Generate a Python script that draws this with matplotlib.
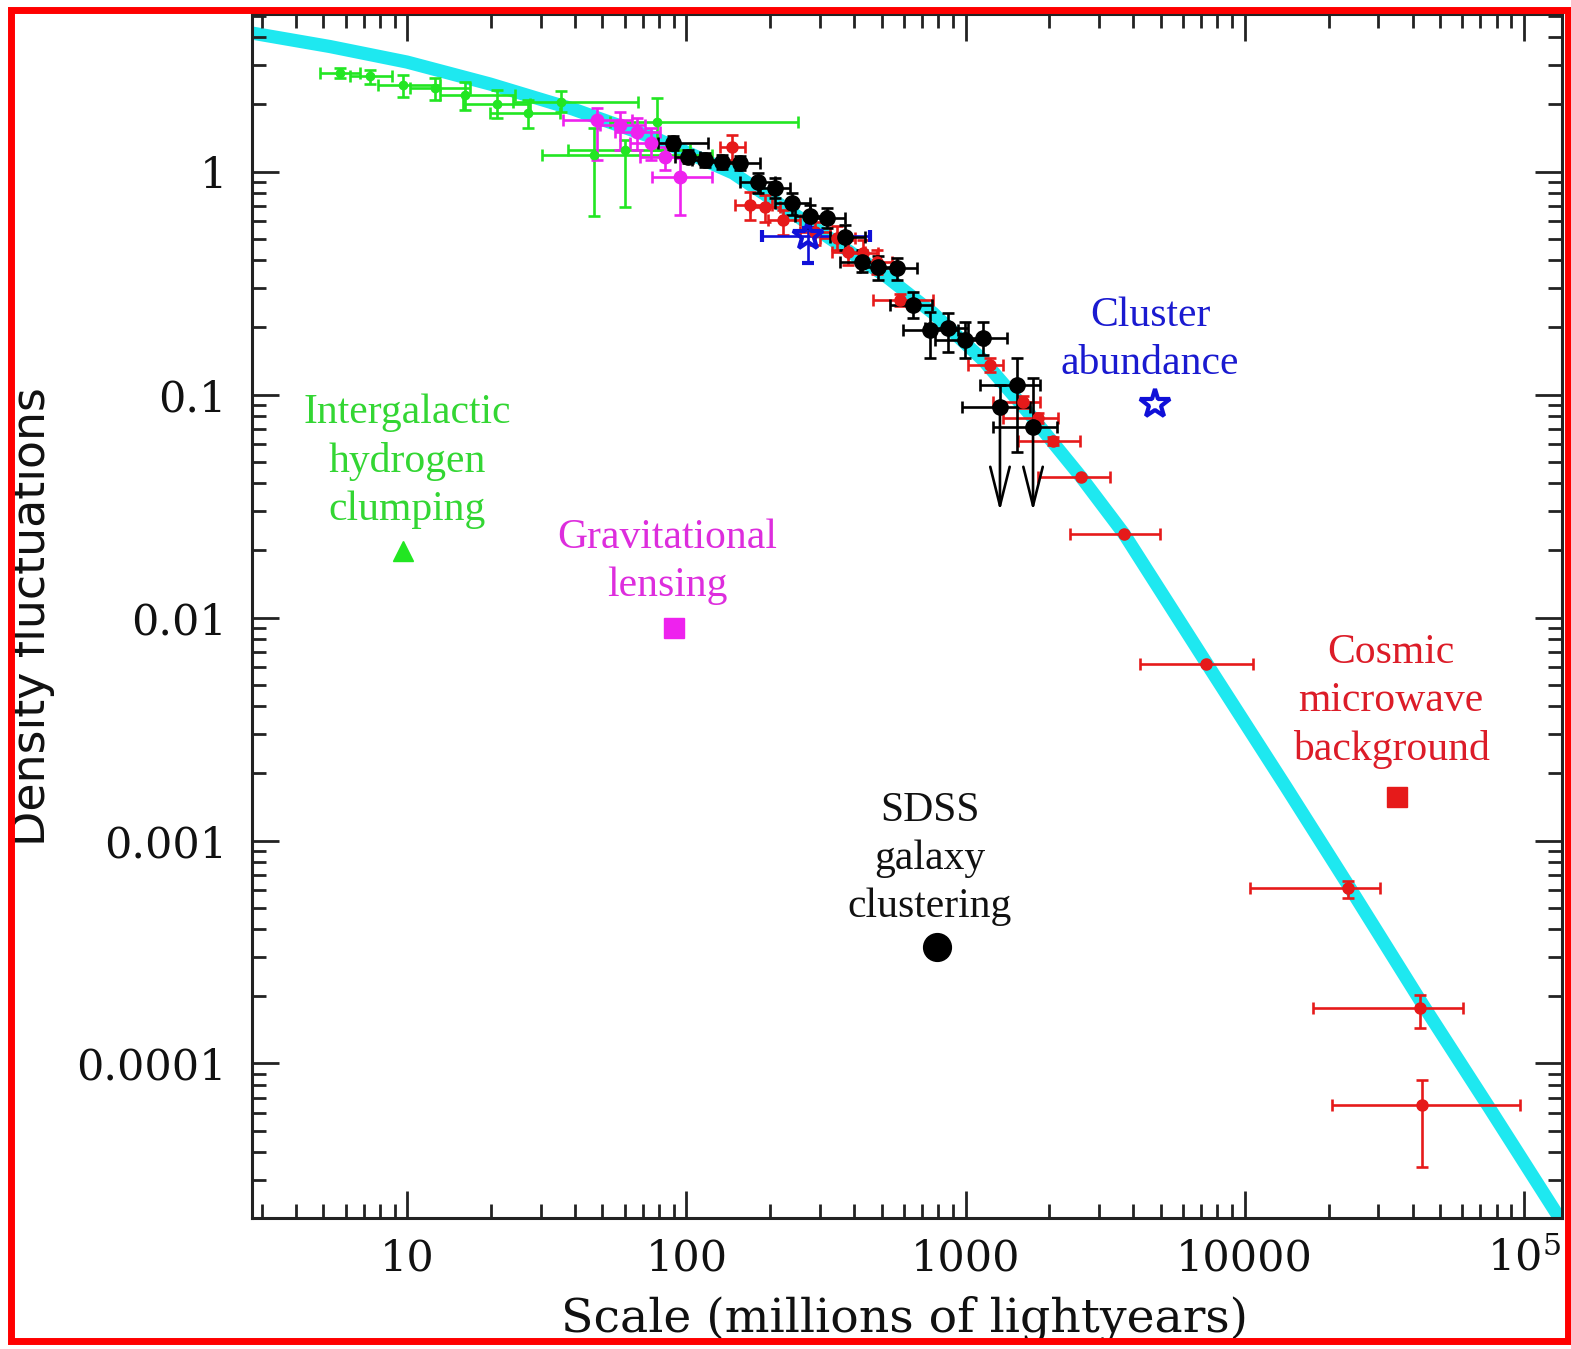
#!/usr/bin/env python3

import numpy as np
import matplotlib as mpl
mpl.use('Agg')
import matplotlib.pyplot as plt
from matplotlib.ticker import LogLocator, NullFormatter, FixedLocator
from matplotlib.patches import Rectangle

# theory curve (power-spectrum style fit)
curve_x = [2.772, 5.275, 9.96, 19.76, 39.19, 78.4, 146.8, 255.2, 523.0, 764.6, 1155,
           1746, 2594, 3700, 7338, 14080, 23880, 43630, 75860, 137400]
curve_y = [4.178, 3.635, 3.097, 2.469, 1.906, 1.399, 0.985, 0.6185, 0.3364, 0.232, 0.1428,
           0.0784, 0.0427, 0.0237, 0.00619, 1.738e-3, 6.12e-4, 1.829e-4, 6.25e-5, 1.946e-5]

# intergalactic hydrogen clumping
green_x = [5.73, 7.34, 9.63, 12.55, 16.07, 20.9, 27.0, 35.5, 46.6, 60.2, 78.4]
green_y = [2.77, 2.68, 2.44, 2.37, 2.20, 2.01, 1.83, 2.05, 1.186, 1.25, 1.667]
green_xlo = [4.86, 6.22, 7.84, 10.2, 13.08, 15.8, 19.8, 23.9, 30.3, 37.6, 53.2]
green_xhi = [6.76, 8.80, 13.08, 16.75, 24.3, 27.5, 35.2, 67.0, 123.5, 102.9, 251]
green_ylo = [2.63, 2.47, 2.16, 2.09, 1.89, 1.74, 1.57, 1.85, 0.631, 0.693, 1.25]
green_yhi = [2.91, 2.85, 2.71, 2.63, 2.52, 2.32, 2.09, 2.30, 1.57, 1.38, 2.14]

# gravitational lensing
magenta_x = [47.8, 57.8, 66.4, 74.6, 83.7, 94.8]
magenta_y = [1.70, 1.617, 1.503, 1.342, 1.162, 0.945]
magenta_xlo = [36.1, 49.0, 55.4, 62.7, 68.1, 75.2]
magenta_xhi = [63.8, 71.0, 80.4, 87.3, 102.9, 123.5]
magenta_ylo = [1.126, 1.25, 1.25, 1.126, 1.016, 0.638]
magenta_yhi = [1.93, 1.85, 1.74, 1.567, 1.288, 1.15]

# SDSS galaxy clustering
black_x = [89.5, 101.2, 116.5, 134.1, 155.5, 180.4, 207.6, 238.8, 277.1, 318.9, 370.0,
           425.6, 485.8, 568.3, 648.3, 746.1, 865.6, 995.9, 1155, 1530]
black_y = [1.342, 1.162, 1.126, 1.103, 1.092, 0.897, 0.843, 0.722, 0.631, 0.619, 0.508,
           0.393, 0.373, 0.369, 0.252, 0.1946, 0.1987, 0.1755, 0.1792, 0.1103]
black_xlo = [79.0, 91.0, 104.6, 119.4, 137.4, 155.5, 183.4, 207.6, 244.9, 281.7, 326.9,
             355, 418.8, 485.8, 536.3, 597, 716, 777.7, 955.6, 1127]
black_xhi = [119.4, 111.8, 129.7, 153, 183.4, 207.6, 235, 277, 313.6, 370, 436.4,
             494, 558.9, 670, 758.6, 939.9, 1021, 1175, 1408, 1849]
black_ylo = [1.248, 1.092, 1.047, 1.026, 1.016, 0.801, 0.761, 0.638, 0.558, 0.558, 0.445,
             0.354, 0.326, 0.326, 0.220, 0.1458, 0.155, 0.1458, 0.1504, 0.0552]
black_yhi = [1.443, 1.248, 1.21, 1.186, 1.174, 0.985, 0.935, 0.801, 0.708, 0.686, 0.575,
             0.445, 0.418, 0.409, 0.288, 0.234, 0.232, 0.2114, 0.2114, 0.1458]

# SDSS upper limits (arrows)
limit_x = [1329, 1746]
limit_y = [0.0879, 0.0715]
limit_xlo = [971.6, 1255]
limit_xhi = [1703, 2128]
limit_yhi = [0.1103, 0.1186]
limit_to = [0.0300, 0.0300]

# cosmic microwave background (+ red galaxy points)
red_x = [145.6, 168.9, 191.1, 221.8, 288.8, 346.3, 379.2, 429.1, 481.7, 582.4, 1224,
         1607, 1820, 2058, 2594, 3700, 7278, 23500, 42560, 43270]
red_y = [1.288, 0.708, 0.693, 0.606, 0.5355, 0.503, 0.4355, 0.431, 0.393, 0.2653, 0.1356,
         0.0926, 0.0784, 0.0619, 0.0427, 0.0237, 0.00619, 6.12e-4, 1.774e-4, 6.51e-5]
red_xlo = [131.9, 149.2, 168.9, 196, 255.2, 301, 332.3, 379.2, 425.6, 466.1, 1021,
           1255, 1362, 1543, 1820, 2369, 4221, 10460, 17600, 20590]
red_xhi = [162.1, 202.5, 216.3, 255.2, 326.9, 401.7, 436.4, 485.8, 545.4, 764.6, 1362,
           1849, 2145, 2573, 3295, 4978, 10730, 30600, 60700, 97160]
red_ylo = [1.126, 0.606, 0.594, 0.519, 0.468, 0.445, 0.381, 0.377, 0.347, 0.2493, 0.1262,
           0.0870, 0.0745, 0.0594, 0.0427, 0.0237, 0.00619, 5.53e-4, 1.443e-4, 3.43e-5]
red_yhi = [1.457, 0.809, 0.785, 0.672, 0.594, 0.569, 0.493, 0.493, 0.445, 0.2823, 0.1458,
           0.0985, 0.0826, 0.0645, 0.0427, 0.0237, 0.00619, 6.58e-4, 2.03e-4, 8.43e-5]

# cluster abundance
blue_x = [272.6]
blue_y = [0.514]
blue_xlo = [186.5]
blue_xhi = [454.7]
blue_ylo = [0.389]
blue_yhi = [0.558]

# labels with their key symbols
label_text = ['Intergalactic\nhydrogen\nclumping', 'Gravitational\nlensing',
              'SDSS\ngalaxy\nclustering', 'Cluster\nabundance',
              'Cosmic\nmicrowave\nbackground']
label_x = [10.0, 85.1, 746, 4585, 33500]
label_y = [0.0503, 0.01774, 8.26e-4, 0.1764, 4.223e-3]
key_x = [9.64, 90.2, 790.4, 4778, 35210]
key_y = [0.01987, 0.008973, 3.331e-4, 0.0907, 1.567e-3]

xticks = [10, 100, 1000, 10000, 1e5]
xticklabels = ['10', '100', '1000', '10000', r'$10^5$']
yticks = [1e-4, 1e-3, 1e-2, 0.1, 1]
yticklabels = ['0.0001', '0.001', '0.01', '0.1', '1']

GREEN = '#22e622'
MAGENTA = '#ee22ee'
RED = '#e61a1a'
BLUE = '#1010d8'
CYAN = '#1ee8f0'


def errs(v, lo, hi):
    v = np.array(v)
    return np.vstack([v - np.array(lo), np.array(hi) - v])


def main():
    mpl.rcParams['mathtext.fontset'] = 'dejavuserif'
    fig = plt.figure(figsize=(15.71, 13.49), dpi=100)
    ax = fig.add_axes([0.1604, 0.0971, 0.8339, 0.8925])
    ax.set_xscale('log')
    ax.set_yscale('log')
    ax.set_xlim(2.772, 137400)
    ax.set_ylim(2.028e-5, 5.085)

    ax.plot(curve_x, curve_y, color=CYAN, lw=9.5, solid_capstyle='butt', zorder=1)

    ebkw = dict(ls='none', elinewidth=1.9, capsize=4.5, capthick=1.9, zorder=3)
    ax.errorbar(green_x, green_y, xerr=errs(green_x, green_xlo, green_xhi),
                yerr=errs(green_y, green_ylo, green_yhi), fmt='o', ms=6,
                color=GREEN, **ebkw)
    ax.errorbar(magenta_x, magenta_y, xerr=errs(magenta_x, magenta_xlo, magenta_xhi),
                yerr=errs(magenta_y, magenta_ylo, magenta_yhi), fmt='o', ms=9,
                color=MAGENTA, **ebkw)
    ax.errorbar(red_x, red_y, xerr=errs(red_x, red_xlo, red_xhi),
                yerr=errs(red_y, red_ylo, red_yhi), fmt='o', ms=8,
                color=RED, **ebkw)
    ax.errorbar(blue_x, blue_y, xerr=errs(blue_x, blue_xlo, blue_xhi),
                yerr=errs(blue_y, blue_ylo, blue_yhi), fmt='*', ms=22,
                mfc='none', mew=3, color=BLUE, **ebkw)
    ax.errorbar(black_x, black_y, xerr=errs(black_x, black_xlo, black_xhi),
                yerr=errs(black_y, black_ylo, black_yhi), fmt='o', ms=11,
                color='black', **ebkw)
    ax.errorbar(limit_x, limit_y, xerr=errs(limit_x, limit_xlo, limit_xhi),
                yerr=errs(limit_y, limit_y, limit_yhi), fmt='o', ms=11,
                color='black', **ebkw)
    for x, y0, y1 in zip(limit_x, limit_y, limit_to):
        ax.annotate('', xy=(x, y1), xytext=(x, y0),
                    arrowprops=dict(arrowstyle='->,head_length=1.4,head_width=0.35',
                                    lw=1.9, color='black', shrinkA=0, shrinkB=0,
                                    mutation_scale=20), zorder=3)

    # labels and keys
    colors = [GREEN, MAGENTA, 'black', BLUE, RED]
    text_colors = ['#33d633', '#dd2ddd', '#111111', '#1a1ad0', '#dc1c28']
    markers = ['^', 's', 'o', '*', 's']
    sizes = [15, 14, 20, 22, 14]
    for i in range(5):
        ax.text(label_x[i], label_y[i], label_text[i], color=text_colors[i],
                ha='center', va='center', fontsize=30, family='Liberation Serif',
                linespacing=1.33)
        if markers[i] == '*':
            ax.plot(key_x[i], key_y[i], marker='*', ms=sizes[i], mfc='none',
                    mec=colors[i], mew=3, ls='none')
        else:
            ax.plot(key_x[i], key_y[i], marker=markers[i], ms=sizes[i],
                    color=colors[i], ls='none')

    ax.xaxis.set_major_locator(FixedLocator(xticks))
    ax.set_xticklabels(xticklabels)
    ax.xaxis.set_minor_locator(LogLocator(base=10, subs=range(2, 10), numticks=20))
    ax.xaxis.set_minor_formatter(NullFormatter())
    ax.yaxis.set_major_locator(FixedLocator(yticks))
    ax.set_yticklabels(yticklabels)
    ax.yaxis.set_minor_locator(LogLocator(base=10, subs=range(2, 10), numticks=20))
    ax.yaxis.set_minor_formatter(NullFormatter())

    ax.tick_params(which='both', direction='in', top=True, right=True, width=2,
                   color='#222222')
    ax.tick_params(which='major', length=19.5)
    ax.tick_params(which='minor', length=10)
    ax.tick_params(axis='x', pad=14)
    ax.tick_params(axis='y', pad=18)
    for lab in ax.get_xticklabels() + ax.get_yticklabels():
        lab.set_fontfamily('DejaVu Serif')
        lab.set_fontsize(31)
        lab.set_color('#111111')
    for sp in ax.spines.values():
        sp.set_linewidth(2.2)
        sp.set_color('#222222')

    fig.text(0.576, 0.0225, 'Scale (millions of lightyears)', ha='center', va='center',
             fontsize=34, family='DejaVu Serif', color='#111111')
    fig.text(0.0205, 0.5426, 'Density fluctuations', ha='center', va='center',
             rotation=90, fontsize=33, family='DejaVu Sans', color='#111111')

    fig.patches.append(Rectangle((0.00732, 0.00593), 0.99077, 0.98666,
                                 transform=fig.transFigure, fill=False,
                                 edgecolor='#ff0000', lw=5, zorder=10))
    fig.savefig('out.png', dpi=100)


if __name__ == "__main__":
    main()
